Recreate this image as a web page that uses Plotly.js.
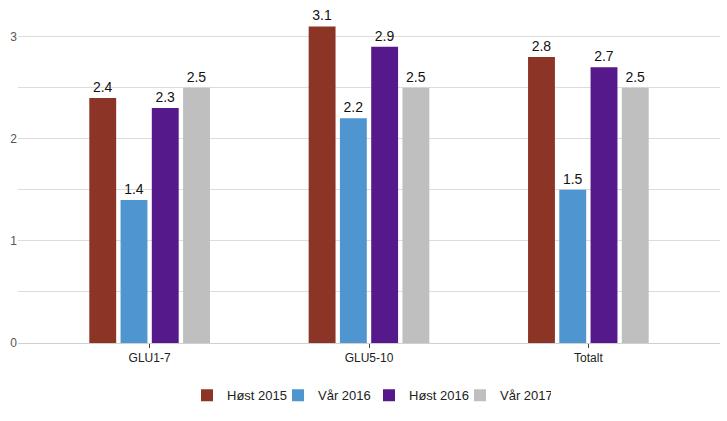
<!DOCTYPE html>
<html>
<head>
<meta charset="utf-8">
<script src="https://cdn.plot.ly/plotly-3.0.1.min.js"></script>
<style>html,body{margin:0;padding:0;background:#fff;}#chart{width:727px;height:421px;}</style>
</head>
<body>
<div id="chart"></div>
<script>
const categories = ["GLU1-7", "GLU5-10", "Totalt"];
const seriesNames = ["Høst 2015", "Vår 2016", "Høst 2016", "Vår 2017"];
const host2015 = [2.4, 3.1, 2.8];
const var2016 = [1.4, 2.2, 1.5];
const host2016 = [2.3, 2.9, 2.7];
const var2017 = [2.5, 2.5, 2.5];
const colors = ["#8c3527", "#4f96d0", "#55198b", "#bfbfbf"];

const values = [host2015, var2016, host2016, var2017];
const traces = values.map((v, i) => ({
  type: "bar",
  name: seriesNames[i],
  x: categories,
  y: v,
  marker: {color: colors[i]},
  text: v.map(d => d.toFixed(1)),
  textposition: "outside",
  cliponaxis: false,
  textfont: {family: "Liberation Sans, Arial, sans-serif", size: 14, color: "#111"},
  hoverinfo: "none"
}));

const layout = {
  width: 727, height: 421,
  margin: {l: 18, r: 7, t: 6, b: 78},
  paper_bgcolor: "#fff", plot_bgcolor: "#fff",
  font: {family: "Liberation Sans, Arial, sans-serif", size: 12, color: "#333"},
  barmode: "group",
  bargap: 0.43,
  bargroupgap: 0.14,
  showlegend: true,
  legend: {
    orientation: "h", x: 0.5, xanchor: "center", y: -0.155, yanchor: "middle",
    font: {size: 13, color: "#222"},
    entrywidth: 46, entrywidthmode: "pixels",
    traceorder: "normal"
  },
  xaxis: {
    type: "category",
    range: [-0.6, 2.6],
    showgrid: false,
    showline: true, linecolor: "#d0d0d0", linewidth: 1,
    ticks: "outside", ticklen: 4, tickcolor: "#444", tickwidth: 1,
    tickfont: {size: 12, color: "#222"},
    fixedrange: true
  },
  yaxis: {
    range: [0, 3.3],
    dtick: 1, tick0: 0,
    showgrid: true, gridcolor: "#dcdcdc", gridwidth: 1,
    minor: {dtick: 0.5, showgrid: true, gridcolor: "#dcdcdc", gridwidth: 1},
    zeroline: false,
    showline: false,
    ticks: "",
    tickfont: {size: 12, color: "#555"},
    fixedrange: true
  }
};

Plotly.newPlot("chart", traces, layout, {displayModeBar: false, staticPlot: true});
</script>
</body>
</html>
